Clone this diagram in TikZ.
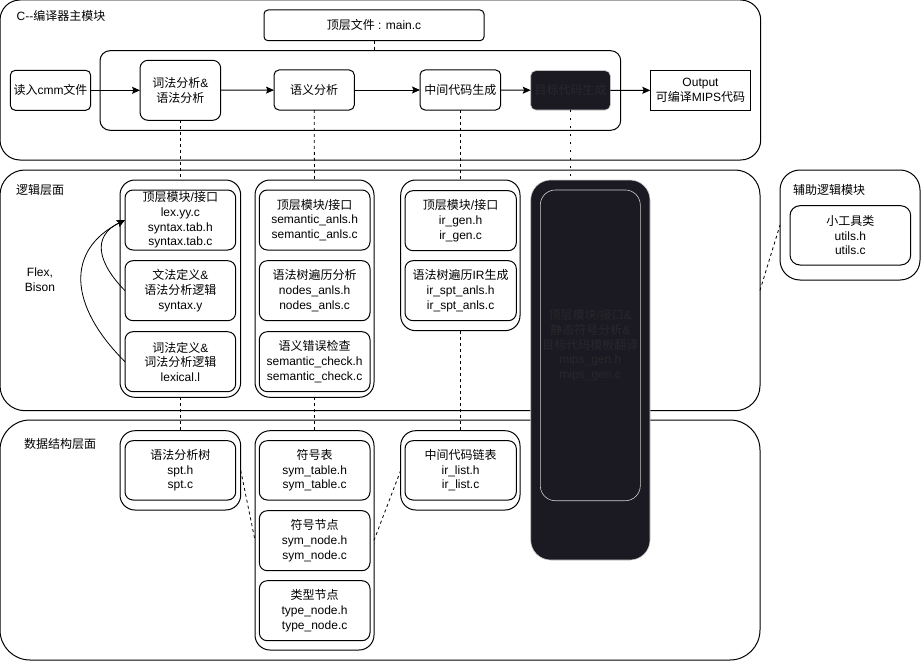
\documentclass[tikz,border=0pt]{standalone}
\usepackage{fontspec}
\setmainfont{Liberation Sans}
\newfontfamily\cjk{Noto Sans CJK SC}
\newcommand\zh[1]{{\cjk #1}}
\usetikzlibrary{arrows.meta}
\definecolor{darkfill}{RGB}{27,25,33}
\definecolor{darktext}{RGB}{40,40,44}
\definecolor{darkedge}{RGB}{205,205,205}
\newcommand\fs{\fontsize{12}{14.6}\selectfont}
\begin{document}
\begin{tikzpicture}[x=1pt,y=-1pt,
  base/.style={draw, line width=1pt, align=center, inner sep=0pt, outer sep=0pt, anchor=north west, font=\fs},
  layer/.style={base, rounded corners=25pt},
  grp/.style={base, rounded corners=15pt},
  mod/.style={base, rounded corners=8pt},
  pbox/.style={base, rounded corners=5pt},
  darkbox/.style={base, fill=darkfill, text=darktext, draw=darkedge, line width=0.6pt},
  lbl/.style={anchor=west, inner sep=0pt, font=\fs},
  conn/.style={line width=1pt, -{Stealth[length=8pt,width=7pt,inset=1.5pt]}},
  curv/.style={line width=0.8pt, -{Stealth[length=8pt,width=7pt,inset=1.5pt]}},
  dashln/.style={line width=0.8pt, dash pattern=on 3pt off 3pt},
  dotln/.style={line width=1.6pt, dash pattern=on 1.5pt off 6.5pt}
]
\useasboundingbox (0,0) rectangle (921,661);

% ---------- layer containers ----------
\node[layer, rounded corners=20pt, minimum width=760.7pt, minimum height=160pt] (mainbox) at (0,0) {};
\node[layer, minimum width=760pt, minimum height=240.7pt] (logic) at (0,170) {};
\node[layer, rounded corners=30pt, minimum width=760pt, minimum height=240pt] (data) at (0,420) {};
\node[layer, rounded corners=20pt, minimum width=140pt, minimum height=110pt] (aux) at (780,170) {};

\node[lbl] (t1) at (16.5,16) {C{-}{-}\zh{编译器主模块}};
\node[lbl] (t2) at (16,190) {\zh{逻辑层面}};
\node[lbl] (t3) at (24,444) {\zh{数据结构层面}};
\node[lbl] (t4) at (793,190) {\zh{辅助逻辑模块}};

% ---------- main pipeline ----------
\node[pbox, rounded corners=4pt, minimum width=220pt, minimum height=30.7pt] (mainc) at (264,10) {\zh{顶层文件} : main.c};
\node[base, rounded corners=10pt, minimum width=520.7pt, minimum height=79.6pt] (pipe) at (100,50.7) {};
\node[pbox, minimum width=80.4pt, minimum height=40pt] (read) at (10.3,70.3) {\zh{读入}cmm\zh{文件}};
\node[mod, minimum width=80.7pt, minimum height=60pt] (lex) at (140,60.3) {\zh{词法分析}\&\\\zh{语法分析}};
\node[pbox, minimum width=80.3pt, minimum height=40pt] (sem) at (274,70) {\zh{语义分析}};
\node[pbox, minimum width=80.7pt, minimum height=40pt] (ir) at (420,70) {\zh{中间代码生成}};
\node[darkbox, rounded corners=5pt, minimum width=79.6pt, minimum height=39.3pt] (tgt) at (530.7,70.7) {\zh{目标代码生成}};
\node[base, minimum width=100.4pt, minimum height=40pt] (out) at (650.3,70.3) {Output\\\zh{可编译}MIPS\zh{代码}};

% ---------- logic layer ----------
\node[grp, minimum width=120.7pt, minimum height=217.3pt] (lexcol) at (120,180) {};
\node[mod, minimum width=110.7pt, minimum height=60pt] (lx1) at (125,190) {\zh{顶层模块}/\zh{接口}\\lex.yy.c\\syntax.tab.h\\syntax.tab.c};
\node[mod, minimum width=110.7pt, minimum height=60pt] (lx2) at (125,260.7) {\zh{文法定义}\&\\\zh{语法分析逻辑}\\syntax.y};
\node[mod, minimum width=110.7pt, minimum height=60pt] (lx3) at (125,331.7) {\zh{词法定义}\&\\\zh{词法分析逻辑}\\lexical.l};

\node[grp, minimum width=119pt, minimum height=217.3pt] (semcol) at (255,180) {};
\node[mod, minimum width=110.7pt, minimum height=60pt] (sm1) at (259.3,190) {\zh{顶层模块}/\zh{接口}\\semantic\_anls.h\\semantic\_anls.c};
\node[mod, minimum width=110.7pt, minimum height=60pt] (sm2) at (259.3,260.7) {\zh{语法树遍历分析}\\nodes\_anls.h\\nodes\_anls.c};
\node[mod, minimum width=110.7pt, minimum height=60pt] (sm3) at (259.3,331.7) {\zh{语义错误检查}\\semantic\_check.h\\semantic\_check.c};

\node[grp, minimum width=119.3pt, minimum height=150.7pt] (ircol) at (400.7,180) {};
\node[mod, minimum width=111.3pt, minimum height=60pt] (ir1) at (405,190.7) {\zh{顶层模块}/\zh{接口}\\ir\_gen.h\\ir\_gen.c};
\node[mod, minimum width=111.3pt, minimum height=60pt] (ir2) at (405,260.7) {\zh{语法树遍历}IR\zh{生成}\\ir\_spt\_anls.h\\ir\_spt\_anls.c};

\node[font=\fs, align=center, inner sep=0pt] (fb) at (40,280) {Flex,\\Bison};

% ---------- auxiliary ----------
\node[mod, rounded corners=10pt, minimum width=120.7pt, minimum height=59.3pt] (utl) at (790,205.7) {\zh{小工具类}\\utils.h\\utils.c};

% ---------- data layer ----------
\node[grp, minimum width=120.7pt, minimum height=79.3pt] (sptcol) at (120,430.7) {};
\node[mod, minimum width=110.7pt, minimum height=59.3pt] (spt) at (125,440.7) {\zh{语法分析树}\\spt.h\\spt.c};

\node[grp, minimum width=119pt, minimum height=219.3pt] (symcol) at (255,430.7) {};
\node[mod, minimum width=110.7pt, minimum height=59.3pt] (sy1) at (259.3,440.7) {\zh{符号表}\\sym\_table.h\\sym\_table.c};
\node[mod, minimum width=110.7pt, minimum height=60pt] (sy2) at (259.3,510.7) {\zh{符号节点}\\sym\_node.h\\sym\_node.c};
\node[mod, minimum width=110.7pt, minimum height=60pt] (sy3) at (259.3,580.7) {\zh{类型节点}\\type\_node.h\\type\_node.c};

\node[grp, minimum width=119.3pt, minimum height=79.3pt] (irlcol) at (400.7,430.7) {};
\node[mod, minimum width=111.3pt, minimum height=59.3pt] (irl) at (405,440.7) {\zh{中间代码链表}\\ir\_list.h\\ir\_list.c};

% ---------- dark target column ----------
\node[darkbox, rounded corners=20pt, minimum width=119.3pt, minimum height=380pt] (darkcol) at (530.7,180) {};
\node[darkbox, rounded corners=15pt, minimum width=100pt, minimum height=310.7pt] (darkin) at (540.3,190) {\zh{顶层模块}/\zh{接口}\&\\\zh{静态符号分析}\&\\\zh{目标代码模板翻译}\\mips\_gen.h\\mips\_gen.c};

% ---------- connectors ----------
\draw[conn] (read) -- (lex);
\draw[conn] (lex) -- (sem);
\draw[conn] (sem) -- (ir);
\draw[conn] (ir) -- (tgt);
\draw[conn] (tgt) -- (out);

\draw[dashln] (mainc.south) -- (mainc.south |- pipe.north);
\draw[dashln] (lex.south) -- (lexcol.north);
\draw[dashln] (sem.south) -- (semcol.north);
\draw[dashln] (ir.south) -- (ircol.north);
\draw[dotln] (tgt.south) -- (tgt.south |- darkcol.north);

\draw[dashln] (lexcol.south) -- (sptcol.north);
\draw[dashln] (semcol.south) -- (symcol.north);
\draw[dashln] (ircol.south) -- (irlcol.north);

\draw[dashln] (sptcol.east) -- (symcol.west);
\draw[dashln] (irlcol.west) -- (symcol.east);
\draw[dashln] (logic.east) -- (aux.west);

\draw[curv] (lx2.west) .. controls (97,262) and (92,236) .. (lx1.west);
\draw[curv] (lx3.west) .. controls (68,305) and (66,250) .. (lx1.west);
\end{tikzpicture}
\end{document}
